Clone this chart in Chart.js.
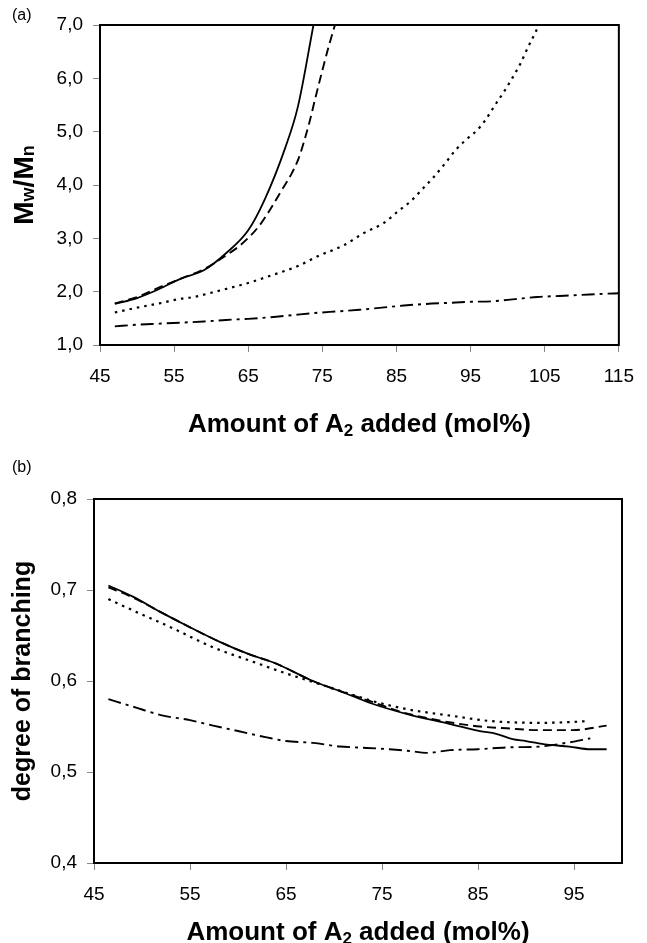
<!DOCTYPE html>
<html><head><meta charset="utf-8">
<script src="https://cdn.jsdelivr.net/npm/chart.js@4/dist/chart.umd.min.js"></script>
<style>
html,body{margin:0;padding:0;background:#fff;}
#wrap{position:relative;width:647px;height:943px;overflow:hidden;}
#ca{position:absolute;left:0;top:0;}
#cb{position:absolute;left:0;top:440px;}
</style></head><body>
<div id="wrap">
<canvas id="ca" width="647" height="440"></canvas>
<canvas id="cb" width="647" height="503"></canvas>
</div>
<script>
// ---------- data: panel (a) Mw/Mn ----------
const xTicksA = [45, 55, 65, 75, 85, 95, 105, 115];
const yTicksA = [1, 2, 3, 4, 5, 6, 7];
const a_solid_x = [47, 50, 53, 56, 59, 62, 65, 67.2, 70, 71.7, 73.8];
const a_solid_y = [1.77, 1.88, 2.05, 2.25, 2.4, 2.72, 3.15, 3.72, 4.7, 5.47, 7.0];
const a_dash_x = [47, 50, 53, 56, 59, 62, 64, 66.4, 68, 69.5, 70.8, 71.8, 72.6, 73.3, 74, 75, 75.9, 76.7];
const a_dash_y = [1.78, 1.9, 2.08, 2.25, 2.42, 2.68, 2.88, 3.22, 3.55, 3.9, 4.2, 4.5, 4.85, 5.2, 5.6, 6.15, 6.62, 7.0];
const a_dot_x = [47, 50, 53, 56, 57.7, 60, 62, 65.4, 68, 71.7, 74.3, 77.9, 80.6, 83.2, 85.4, 86.8, 88.6, 89.9, 91.7, 93, 94.8, 95.9, 97, 98.3, 99.5, 100.6, 101.7, 102.7, 103.7, 104.2];
const a_dot_y = [1.61, 1.7, 1.78, 1.87, 1.9, 1.98, 2.05, 2.18, 2.3, 2.48, 2.66, 2.87, 3.1, 3.28, 3.53, 3.68, 3.94, 4.13, 4.43, 4.66, 4.9, 5.03, 5.22, 5.5, 5.75, 6.0, 6.27, 6.57, 6.85, 7.0];
const a_dd_x = [47, 50, 53, 56, 59, 62, 65, 68, 71, 74, 77, 80, 83, 86, 89, 92, 95, 98, 101, 104, 107, 110, 113, 115];
const a_dd_y = [1.35, 1.38, 1.4, 1.42, 1.44, 1.47, 1.49, 1.52, 1.56, 1.6, 1.63, 1.66, 1.7, 1.74, 1.77, 1.79, 1.81, 1.82, 1.86, 1.9, 1.92, 1.94, 1.96, 1.97];

// ---------- data: panel (b) degree of branching ----------
const xTicksB = [45, 55, 65, 75, 85, 95];
const yTicksB = [0.4, 0.5, 0.6, 0.7, 0.8];
const b_solid_x = [46.5, 49, 51.9, 55, 58.1, 61, 64, 67.8, 70.6, 74, 78.2, 82, 85.2, 86.9, 88.6, 90, 92.2, 94.5, 96.7, 98.4];
const b_solid_y = [0.705, 0.693, 0.676, 0.659, 0.643, 0.63, 0.619, 0.6, 0.589, 0.575, 0.562, 0.553, 0.545, 0.542, 0.536, 0.534, 0.53, 0.528, 0.525, 0.525];
const b_dash_x = [46.5, 49, 51.9, 55, 58.1, 61, 64, 67.8, 70.6, 74, 77, 80.3, 83, 85.2, 88, 91.4, 94.9, 98.4];
const b_dash_y = [0.703, 0.692, 0.676, 0.659, 0.643, 0.63, 0.619, 0.6, 0.589, 0.577, 0.566, 0.558, 0.553, 0.55, 0.548, 0.546, 0.546, 0.551];
const b_dot_x = [46.5, 49.8, 53.2, 57.4, 61.6, 65.1, 67.8, 71, 74, 77.6, 82.1, 86.3, 91.5, 94.9, 96.5];
const b_dot_y = [0.69, 0.674, 0.658, 0.637, 0.621, 0.608, 0.599, 0.588, 0.578, 0.569, 0.562, 0.556, 0.554, 0.555, 0.556];
const b_dd_x = [46.5, 49, 52.2, 55, 57.4, 60, 63, 65, 67.8, 70.6, 72.4, 75.8, 78, 79.6, 82.1, 85, 88, 91.5, 94.2, 96.7];
const b_dd_y = [0.58, 0.572, 0.562, 0.557, 0.551, 0.545, 0.538, 0.534, 0.532, 0.528, 0.527, 0.525, 0.523, 0.521, 0.524, 0.525, 0.527, 0.528, 0.532, 0.537];

const FONT = '"Liberation Sans", Arial, Helvetica, sans-serif';
const pts = (xs, ys) => xs.map((x, i) => ({x: x, y: ys[i]}));
const comma = v => Number(v).toFixed(1).replace('.', ',');

function richText(ctx, segs, x, y, rot) {
  ctx.save();
  ctx.translate(x, y);
  ctx.rotate(rot);
  ctx.fillStyle = '#000';
  ctx.textBaseline = 'alphabetic';
  ctx.textAlign = 'left';
  let total = 0;
  segs.forEach(s => { ctx.font = 'bold ' + s.size + 'px ' + FONT; s.w = ctx.measureText(s.t).width; total += s.w; });
  let cx = -total / 2;
  segs.forEach(s => { ctx.font = 'bold ' + s.size + 'px ' + FONT; ctx.fillText(s.t, cx, s.dy || 0); cx += s.w; });
  ctx.restore();
}

function lineStyle(kind) {
  if (kind === 'solid') return {borderDash: [], borderWidth: 1.8};
  if (kind === 'dash') return {borderDash: [9, 5], borderWidth: 1.9};
  if (kind === 'dot') return {borderDash: [2.5, 5], borderWidth: 2.2};
  return {borderDash: [13, 5, 3, 5], borderWidth: 1.9};
}
function ds(data, kind) {
  return Object.assign({data: data, borderColor: '#000', backgroundColor: '#000', pointRadius: 0, fill: false,
    cubicInterpolationMode: 'monotone', borderCapStyle: 'butt'}, lineStyle(kind));
}

function scaleCfg(ticksArr, min, max, fmt, isX, size) {
  return {
    type: 'linear', min: min, max: max,
    afterBuildTicks: s => { s.ticks = ticksArr.map(v => ({value: v})); },
    afterFit: s => { if (isX) s.height = size; else s.width = size; },
    ticks: {font: {size: 19, family: FONT}, color: '#000', padding: isX ? 13 : 10, maxRotation: 0, autoSkip: false, callback: fmt},
    grid: {display: true, drawOnChartArea: false, drawTicks: true, tickLength: 7, color: '#888', lineWidth: 1},
    border: {display: false}
  };
}

const frame = {
  id: 'frame',
  afterDraw(chart, args, opts) {
    const {ctx, chartArea: a} = chart;
    ctx.save();
    ctx.strokeStyle = '#000';
    ctx.lineWidth = 2;
    ctx.strokeRect(a.left, a.top, a.right - a.left, a.bottom - a.top);
    ctx.fillStyle = '#000';
    ctx.font = '16px ' + FONT;
    ctx.textBaseline = 'middle';
    ctx.textAlign = 'left';
    ctx.fillText(opts.tag, 12, opts.tagY);
    ctx.restore();
    const cx = (a.left + a.right) / 2, cy = (a.top + a.bottom) / 2;
    richText(ctx, opts.xTitle, cx, opts.xTitleY, 0);
    richText(ctx, opts.yTitle, opts.yTitleX, cy, -Math.PI / 2);
  }
};

new Chart(document.getElementById('ca'), {
  type: 'line',
  data: {datasets: [
    ds(pts(a_solid_x, a_solid_y), 'solid'),
    ds(pts(a_dash_x, a_dash_y), 'dash'),
    ds(pts(a_dot_x, a_dot_y), 'dot'),
    ds(pts(a_dd_x, a_dd_y), 'dd')
  ]},
  options: {
    responsive: false, animation: false, devicePixelRatio: 1,
    layout: {padding: {top: 25, right: 22, left: 0, bottom: 0}},
    plugins: {legend: {display: false}, tooltip: {enabled: false},
      frame: {tag: '(a)', tagY: 16, xTitleY: 432,
        xTitle: [{t: 'Amount of A', size: 26}, {t: '2', size: 17, dy: 4}, {t: ' added (mol%)', size: 26}],
        yTitle: [{t: 'M', size: 28}, {t: 'w', size: 18, dy: 1}, {t: '/M', size: 28}, {t: 'n', size: 18, dy: 1}],
        yTitleX: 33}},
    scales: {
      x: scaleCfg(xTicksA, 45, 115, v => String(v), true, 95),
      y: scaleCfg(yTicksA, 1, 7, comma, false, 100)
    }
  },
  plugins: [frame]
});

new Chart(document.getElementById('cb'), {
  type: 'line',
  data: {datasets: [
    ds(pts(b_solid_x, b_solid_y), 'solid'),
    ds(pts(b_dash_x, b_dash_y), 'dash'),
    ds(pts(b_dot_x, b_dot_y), 'dot'),
    ds(pts(b_dd_x, b_dd_y), 'dd')
  ]},
  options: {
    responsive: false, animation: false, devicePixelRatio: 1,
    layout: {padding: {top: 59, right: 25, left: 0, bottom: 0}},
    plugins: {legend: {display: false}, tooltip: {enabled: false},
      frame: {tag: '(b)', tagY: 28, xTitleY: 500,
        xTitle: [{t: 'Amount of A', size: 26}, {t: '2', size: 17, dy: 4}, {t: ' added (mol%)', size: 26}],
        yTitle: [{t: 'degree of branching', size: 25}],
        yTitleX: 30}},
    scales: {
      x: scaleCfg(xTicksB, 45, 100, v => String(v), true, 80),
      y: scaleCfg(yTicksB, 0.4, 0.8, comma, false, 94)
    }
  },
  plugins: [frame]
});
</script>
</body></html>
